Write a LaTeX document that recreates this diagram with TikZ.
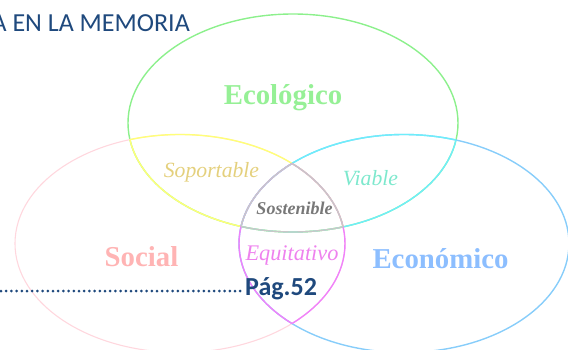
\documentclass[tikz,border=0pt]{standalone}
\usepackage{fontspec}
\setmainfont{Liberation Serif}
\newfontfamily\calibri{Carlito}
\definecolor{ecoC}{RGB}{140,240,140}
\definecolor{socC}{RGB}{255,215,222}
\definecolor{ecnC}{RGB}{135,205,250}
\definecolor{yelC}{RGB}{255,255,120}
\definecolor{cyaC}{RGB}{110,238,250}
\definecolor{magC}{RGB}{240,130,250}
\definecolor{graC}{RGB}{200,200,200}
\definecolor{ecoT}{RGB}{150,240,150}
\definecolor{socT}{RGB}{255,180,180}
\definecolor{ecnT}{RGB}{140,190,255}
\definecolor{sopT}{RGB}{228,208,125}
\definecolor{viaT}{RGB}{125,232,205}
\definecolor{sosT}{RGB}{120,120,120}
\definecolor{equT}{RGB}{238,130,238}
\definecolor{navyT}{RGB}{31,73,125}
\newcommand\EcoPath{(293,226) ellipse [x radius=165pt, y radius=109pt]}
\newcommand\SocPath{(180,105.5) ellipse [x radius=165pt, y radius=109pt]}
\newcommand\EcnPath{(404,105.5) ellipse [x radius=165pt, y radius=109pt]}
\tikzset{
  arc/.style={line width=1.4pt},
  bigword/.style={font=\fontsize{28.8}{31}\selectfont\bfseries, anchor=base, inner sep=0pt},
  midword/.style={font=\fontsize{21.7}{24}\selectfont\itshape, anchor=base, inner sep=0pt}
}
\begin{document}
\begin{tikzpicture}[x=1pt,y=1pt]
\useasboundingbox (0,0) rectangle (568,349);
\clip (0,0) rectangle (568,349);
% base ellipses
\draw[arc, ecoC] \EcoPath;
\draw[arc, socC, line width=1.1pt] \SocPath;
\draw[arc, ecnC] \EcnPath;
% Eco & Social : yellow
\begin{scope}\clip \EcoPath; \draw[arc, yelC] \SocPath; \end{scope}
\begin{scope}\clip \SocPath; \draw[arc, yelC] \EcoPath; \end{scope}
% Eco & Econ : cyan
\begin{scope}\clip \EcoPath; \draw[arc, cyaC] \EcnPath; \end{scope}
\begin{scope}\clip \EcnPath; \draw[arc, cyaC] \EcoPath; \end{scope}
% Social & Econ : magenta
\begin{scope}\clip \SocPath; \draw[arc, magC] \EcnPath; \end{scope}
\begin{scope}\clip \EcnPath; \draw[arc, magC] \SocPath; \end{scope}
% all three : gray
\begin{scope}\clip \EcoPath; \clip \SocPath; \draw[arc, graC] \EcnPath; \end{scope}
\begin{scope}\clip \EcoPath; \clip \EcnPath; \draw[arc, graC] \SocPath; \end{scope}
\begin{scope}\clip \SocPath; \clip \EcnPath; \draw[arc, graC] \EcoPath; \end{scope}
% labels
\node[bigword, text=ecoT] (eco) at (283,245) {Ecológico};
\node[bigword, text=socT] (soc) at (141.5,83) {Social};
\node[bigword, text=ecnT] (ecn) at (440.5,81) {Económico};
\node[midword, text=sopT] (sop) at (211.5,172) {Soportable};
\node[midword, text=viaT] (via) at (370.5,164) {Viable};
\node[midword, text=equT, font=\fontsize{22.3}{24}\selectfont\itshape] (equ) at (292,89) {Equitativo};
\node[font=\fontsize{18}{20}\selectfont\bfseries\itshape, text=sosT, anchor=base, inner sep=0pt] (sos) at (294.5,135) {Sostenible};
% header and page reference
\node[font=\calibri\fontsize{26}{30}\selectfont, text=navyT, anchor=base east, inner sep=0pt] (title) at (190,317) {A EN LA MEMORIA};
\node[font=\calibri\fontsize{26}{30}\selectfont\bfseries, text=navyT, anchor=base west, inner sep=0pt] (pag) at (245,54) {Pág.52};
\coordinate (lead) at (1,58);
\draw[navyT, line width=3pt, line cap=round, dash pattern=on 0pt off 5.2pt] (lead) -- ([xshift=-1pt]pag.west |- lead);
\end{tikzpicture}
\end{document}
